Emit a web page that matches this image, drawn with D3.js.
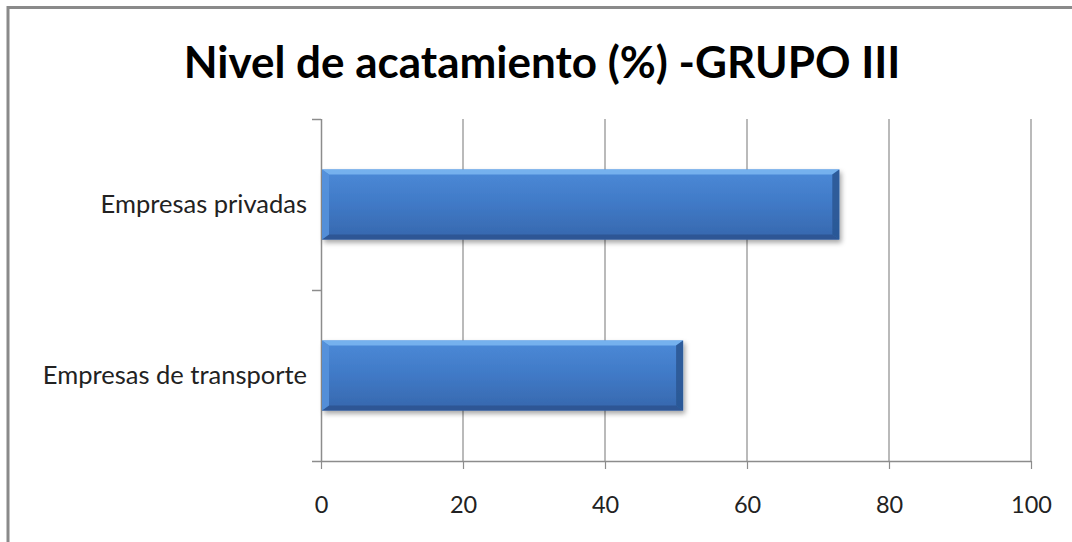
<!DOCTYPE html>
<html>
<head>
<meta charset="utf-8">
<script src="https://cdn.jsdelivr.net/npm/d3@7"></script>
<style>
  body { margin: 0; background: #fff; }
  svg { display: block; }
</style>
</head>
<body>
<div id="chart"></div>
<script>
//constants
const width = 1072;
const height = 542;
const margin = { top: 119, bottom: 81, left: 321, right: 41 };

//data
const categories = ["Empresas privadas", "Empresas de transporte"];
const values = [73, 51];
const xTicks = [0, 20, 40, 60, 80, 100];
const title = "Nivel de acatamiento (%) -GRUPO III";

const font = "Lato, 'Open Sans', sans-serif";

const svg = d3
  .select("#chart")
  .append("svg")
  .attr("width", width)
  .attr("height", height);

const defs = svg.append("defs");

// body gradient of the bars
const grad = defs
  .append("linearGradient")
  .attr("id", "barGrad")
  .attr("x1", 0).attr("y1", 0).attr("x2", 0).attr("y2", 1);
grad.append("stop").attr("offset", "0%").attr("stop-color", "#4b8ad8");
grad.append("stop").attr("offset", "50%").attr("stop-color", "#4079c6");
grad.append("stop").attr("offset", "100%").attr("stop-color", "#3667ad");

const shadow = defs.append("filter").attr("id", "shadow")
  .attr("x", "-5%").attr("y", "-20%").attr("width", "115%").attr("height", "150%");
shadow.append("feDropShadow")
  .attr("dx", 2).attr("dy", 3).attr("stdDeviation", 2.5)
  .attr("flood-color", "#000").attr("flood-opacity", 0.35);

// outer frame
svg
  .append("rect")
  .attr("x", 8)
  .attr("y", 7.5)
  .attr("width", width + 10)
  .attr("height", height + 10)
  .attr("fill", "white")
  .attr("stroke", "#8a8a8a")
  .attr("stroke-width", 3);

//scales
const x = d3
  .scaleLinear()
  .domain([0, 100])
  .range([margin.left, width - margin.right]);

const y = d3
  .scaleBand()
  .domain(categories)
  .range([margin.top, height - margin.bottom])
  .padding(0);

// gridlines
svg
  .selectAll(".grid")
  .data(xTicks.slice(1))
  .join("line")
  .attr("class", "grid")
  .attr("x1", (d) => x(d))
  .attr("x2", (d) => x(d))
  .attr("y1", margin.top)
  .attr("y2", height - margin.bottom)
  .attr("stroke", "#8c8c8c")
  .attr("stroke-width", 1.2);

// x axis
const xAxis = d3.axisBottom(x).tickValues(xTicks).tickSize(8).tickSizeOuter(0).tickPadding(27);
const gx = svg
  .append("g")
  .attr("transform", `translate(0, ${height - margin.bottom})`)
  .call(xAxis);
gx.select(".domain").attr("stroke", "#8c8c8c").attr("stroke-width", 1.5)
  .attr("d", `M${margin.left - 9},0.5H${width - margin.right}`);
gx.selectAll(".tick line").attr("stroke", "#8c8c8c").attr("stroke-width", 1.2);
gx.selectAll(".tick text")
  .attr("font-family", font)
  .attr("font-size", 23.5)
  .attr("fill", "#222");

// y axis, ticks sit between categories
const yAxis = d3.axisLeft(y).tickSize(0).tickPadding(14);
const gy = svg
  .append("g")
  .attr("transform", `translate(${margin.left}, 0)`)
  .call(yAxis);
gy.select(".domain").attr("stroke", "#8c8c8c").attr("stroke-width", 1.5)
  .attr("d", `M0.5,${margin.top}V${height - margin.bottom}`);
gy.selectAll(".tick text")
  .attr("font-family", font)
  .attr("font-size", 25.5)
  .attr("fill", "#222");

const yBounds = [margin.top, ...categories.map((c) => y(c) + y.bandwidth())].slice(0, categories.length);
svg
  .selectAll(".ytick")
  .data(yBounds)
  .join("line")
  .attr("class", "ytick")
  .attr("x1", margin.left - 9)
  .attr("x2", margin.left)
  .attr("y1", (d) => d + 0.5)
  .attr("y2", (d) => d + 0.5)
  .attr("stroke", "#8c8c8c")
  .attr("stroke-width", 1.5);

// bars
const barH = y.bandwidth() * 0.41;
const bev = 7;
const rows = categories.map((c, i) => ({ cat: c, value: values[i] }));

const bar = svg
  .selectAll(".bar")
  .data(rows)
  .join("g")
  .attr("class", "bar")
  .attr("filter", "url(#shadow)");

bar
  .append("rect")
  .attr("x", x(0) + 1)
  .attr("y", (d) => y(d.cat) + (y.bandwidth() - barH) / 2)
  .attr("width", (d) => x(d.value) - x(0) - 1)
  .attr("height", barH)
  .attr("fill", "url(#barGrad)");

// bevel edges
function pts(d, side) {
  const x0 = x(0) + 1;
  const x1 = x(d.value);
  const y0 = y(d.cat) + (y.bandwidth() - barH) / 2;
  const y1 = y0 + barH;
  const tb = 5;
  if (side === "top")
    return [[x0, y0], [x1, y0], [x1 - bev, y0 + tb], [x0 + bev, y0 + tb]];
  if (side === "bottom")
    return [[x0, y1], [x1, y1], [x1 - bev, y1 - tb], [x0 + bev, y1 - tb]];
  if (side === "left")
    return [[x0, y0], [x0 + bev, y0 + tb], [x0 + bev, y1 - tb], [x0, y1]];
  return [[x1, y0], [x1 - bev, y0 + tb], [x1 - bev, y1 - tb], [x1, y1]];
}
const bevelFill = { top: "#79b6f1", bottom: "#2c5592", left: "#5592dc", right: "#2b5895" };
["top", "bottom", "left", "right"].forEach((s) => {
  bar
    .append("polygon")
    .attr("points", (d) => pts(d, s).map((p) => p.join(",")).join(" "))
    .attr("fill", bevelFill[s])
    .attr("opacity", 0.9);
});

// title
svg
  .append("text")
  .attr("x", 542)
  .attr("y", 78)
  .attr("text-anchor", "middle")
  .attr("font-family", font)
  .attr("font-weight", "bold")
  .attr("font-size", 44)
  .attr("fill", "#000")
  .text(title);
</script>
</body>
</html>
